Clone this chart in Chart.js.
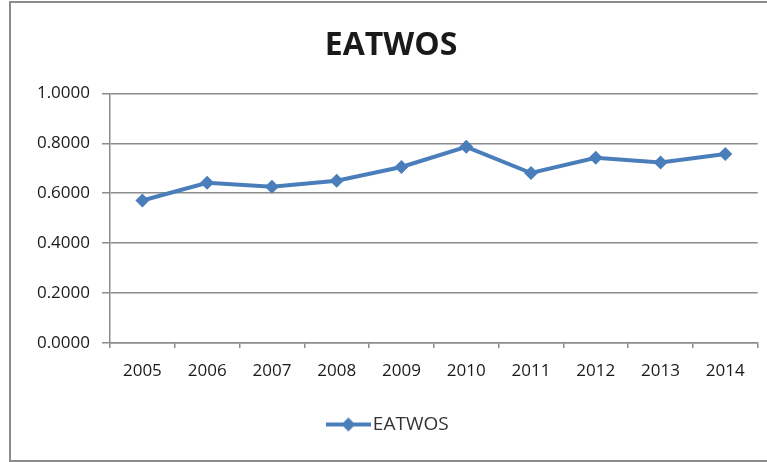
<!DOCTYPE html>
<html>
<head>
<meta charset="utf-8">
<script src="https://cdn.jsdelivr.net/npm/chart.js@4"></script>
<style>
  html, body { margin: 0; padding: 0; background: #fff; overflow: hidden; }
  #wrap { position: relative; width: 767px; height: 462px; overflow: hidden; }
  #frame {
    position: absolute; left: 9px; top: 1px; width: 800px; height: 461px;
    box-sizing: border-box; border: 2px solid #8c8c8c; pointer-events: none;
  }
  canvas { position: absolute; left: 0; top: 0; }
</style>
</head>
<body>
<div id="wrap">
  <!-- the chart box in the reference runs a little past the right edge -->
  <canvas id="chart" width="782" height="462"></canvas>
  <div id="frame"></div>
</div>
<script>
// values
const years = ['2005', '2006', '2007', '2008', '2009', '2010', '2011', '2012', '2013', '2014'];
const eatwos = [0.571, 0.642, 0.626, 0.650, 0.705, 0.786, 0.681, 0.742, 0.723, 0.757];
const seriesName = 'EATWOS';

const blue = '#4a7ebb';
const grey = '#8c8c8c';
const ink = '#1a1a1a';

// legend swatch: short line with a diamond in the middle
function legendSwatch() {
  const c = document.createElement('canvas');
  c.width = 45;
  c.height = 16;
  const g = c.getContext('2d');
  g.strokeStyle = blue;
  g.lineWidth = 4;
  g.beginPath();
  g.moveTo(0, 8);
  g.lineTo(45, 8);
  g.stroke();
  g.fillStyle = blue;
  g.beginPath();
  g.moveTo(22.5, 1);
  g.lineTo(29.5, 8);
  g.lineTo(22.5, 15);
  g.lineTo(15.5, 8);
  g.closePath();
  g.fill();
  return c;
}
const swatch = legendSwatch();

new Chart(document.getElementById('chart'), {
  type: 'line',
  data: {
    labels: years,
    datasets: [{
      label: seriesName,
      data: eatwos,
      borderColor: blue,
      backgroundColor: blue,
      borderWidth: 4,
      pointStyle: 'rectRot',
      pointRadius: 7,
      pointHoverRadius: 7,
      pointBorderWidth: 0,
      tension: 0
    }]
  },
  options: {
    responsive: false,
    animation: false,
    layout: { padding: { left: 0, right: 0, top: 0, bottom: 18 } },
    plugins: {
      title: {
        display: true,
        text: seriesName,
        color: ink,
        font: { family: 'Open Sans', size: 32, weight: 'bold' },
        padding: { top: 27, bottom: 28 }
      },
      legend: {
        position: 'bottom',
        labels: {
          color: '#333',
          font: { family: 'Open Sans', size: 19 },
          usePointStyle: true,
          pointStyleWidth: 30,
          generateLabels(chart) {
            return Chart.defaults.plugins.legend.labels.generateLabels(chart)
              .map(l => Object.assign(l, { pointStyle: swatch }));
          }
        }
      },
      tooltip: { enabled: false }
    },
    scales: {
      x: {
        offset: true,
        grid: {
          offset: true,
          drawOnChartArea: false,
          drawTicks: true,
          tickLength: 5,
          color: grey,
          lineWidth: 1.5
        },
        border: { color: grey, width: 1.5 },
        ticks: {
          color: ink,
          font: { family: 'Open Sans', size: 17 },
          padding: 13,
          maxRotation: 0
        },
        afterFit(scale) { scale.height = 62; }
      },
      y: {
        min: 0,
        max: 1,
        grid: {
          color: grey,
          lineWidth: 1.5,
          tickLength: 8
        },
        border: { color: grey, width: 1.5 },
        ticks: {
          stepSize: 0.2,
          color: ink,
          font: { family: 'Open Sans', size: 17 },
          padding: 12,
          callback: v => Number(v).toFixed(4)
        },
        afterFit(scale) { scale.width = 110; }
      },
      // empty strip on the right so the plot stops where the reference does
      gutter: {
        position: 'right',
        grid: { display: false },
        border: { display: false },
        ticks: { display: false },
        afterFit(scale) { scale.width = 24.3; }
      }
    }
  }
});
</script>
</body>
</html>
